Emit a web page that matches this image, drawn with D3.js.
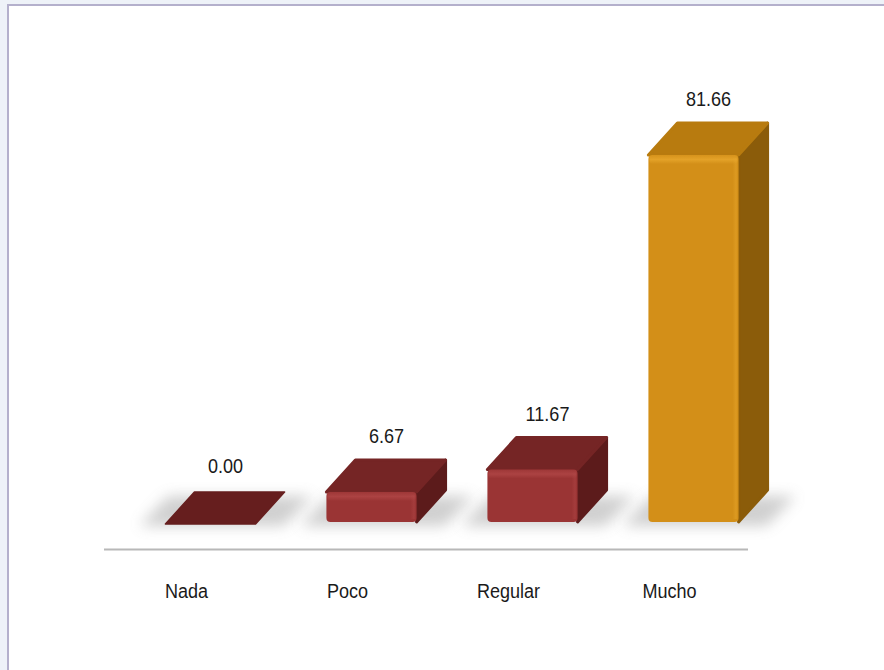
<!DOCTYPE html>
<html>
<head>
<meta charset="utf-8">
<script src="https://cdnjs.cloudflare.com/ajax/libs/d3/7.8.5/d3.min.js"></script>
<style>
  html, body { margin: 0; padding: 0; background: #eef2f8; }
  svg { display: block; }
</style>
</head>
<body>
<script>
const categories = ["Nada", "Poco", "Regular", "Mucho"];
const values = [0.00, 6.67, 11.67, 81.66];
const valueLabels = ["0.00", "6.67", "11.67", "81.66"];
const barColors = ["red", "red", "red", "gold"];

const palette = {
  red:  { key: "red",  front: "#9a3434", frontHi: "#b04646", top: "#752525", side: "#5c1b1b", flat: "#661e1e" },
  gold: { key: "gold", front: "#d38f18", frontHi: "#e8a72c", top: "#b87b0f", side: "#8b5c0a", flat: "#b87b0f" }
};

const W = 884, H = 670;
const svg = d3.select("body").append("svg").attr("width", W).attr("height", H);

// panel
svg.append("rect").attr("x", 8).attr("y", 5).attr("width", W - 7).attr("height", H - 4)
  .attr("fill", "#ffffff").attr("stroke", "#b4b0cc").attr("stroke-width", 2);

const defs = svg.append("defs");
defs.append("filter").attr("id", "blur").attr("x", "-50%").attr("y", "-50%").attr("width", "200%").attr("height", "200%")
  .append("feGaussianBlur").attr("stdDeviation", 7);

Object.values(palette).forEach(p => {
  const gr = defs.append("linearGradient").attr("id", "hi-" + p.key).attr("x1", 0).attr("y1", 0).attr("x2", 0).attr("y2", 1);
  gr.append("stop").attr("offset", "0%").attr("stop-color", p.frontHi).attr("stop-opacity", 0.2);
  gr.append("stop").attr("offset", "50%").attr("stop-color", p.frontHi).attr("stop-opacity", 1);
  gr.append("stop").attr("offset", "100%").attr("stop-color", p.frontHi).attr("stop-opacity", 0);
  const gs = defs.append("linearGradient").attr("id", "hs-" + p.key).attr("x1", 0).attr("y1", 0).attr("x2", 1).attr("y2", 0);
  gs.append("stop").attr("offset", "0%").attr("stop-color", p.frontHi).attr("stop-opacity", 0);
  gs.append("stop").attr("offset", "60%").attr("stop-color", p.frontHi).attr("stop-opacity", 0.8);
  gs.append("stop").attr("offset", "100%").attr("stop-color", p.front).attr("stop-opacity", 0);
});

const x = d3.scaleBand().domain(categories).range([130, 774]).paddingInner(0.44).paddingOuter(0.22);
const base = 522;
const y = d3.scaleLinear().domain([0, 100]).range([base, base - 449.4]);
const dx = 29, dy = -32;
const bw = x.bandwidth();

const data = categories.map((c, i) => ({ cat: c, v: values[i], lab: valueLabels[i], col: palette[barColors[i]] }));

// floor shadows
svg.append("g").selectAll("path").data(data).join("path")
  .attr("d", d => {
    const x0 = x(d.cat) - 26, x1 = x(d.cat) + bw + 28;
    const yb = base + 4, yt = base + dy + 6;
    return `M${x0},${yb} L${x1},${yb} L${x1 + dx},${yt} L${x0 + dx},${yt} Z`;
  })
  .attr("fill", "#8a8a8a").attr("opacity", 0.4).attr("filter", "url(#blur)");

// axis line
svg.append("line").attr("x1", 104).attr("x2", 748).attr("y1", 549.5).attr("y2", 549.5)
  .attr("stroke", "#b8b8b8").attr("stroke-width", 2);

const bars = svg.append("g").selectAll("g").data(data).join("g");

bars.each(function(d) {
  const g = d3.select(this);
  const x0 = x(d.cat), x1 = x0 + bw;
  const yt = y(d.v), yb = base;
  const h = yb - yt;
  if (h < 1) {
    g.append("path")
      .attr("d", `M${x0},${yb + 2} L${x1},${yb + 2} L${x1 + dx},${yb + dy + 2} L${x0 + dx},${yb + dy + 2} Z`)
      .attr("fill", d.col.flat).attr("stroke", d.col.flat).attr("stroke-width", 1.5).attr("stroke-linejoin", "round");
    return;
  }
  // side
  g.append("path")
    .attr("d", `M${x1},${yt} L${x1 + dx},${yt + dy} L${x1 + dx},${yb + dy} L${x1},${yb} Z`)
    .attr("fill", d.col.side).attr("stroke", d.col.side).attr("stroke-width", 3).attr("stroke-linejoin", "round");
  // top
  g.append("path")
    .attr("d", `M${x0},${yt} L${x1},${yt} L${x1 + dx},${yt + dy} L${x0 + dx},${yt + dy} Z`)
    .attr("fill", d.col.top).attr("stroke", d.col.top).attr("stroke-width", 3).attr("stroke-linejoin", "round");
  // front
  g.append("rect").attr("x", x0).attr("y", yt).attr("width", bw).attr("height", h).attr("rx", 4)
    .attr("fill", d.col.front);
  // bevel highlight near top of front
  g.append("rect").attr("x", x0 + 1).attr("y", yt).attr("width", bw - 2).attr("height", Math.min(9, h / 3))
    .attr("rx", 3).attr("fill", `url(#hi-${d.col.key})`).attr("opacity", 0.8);
  // bevel on right edge of front
  g.append("rect").attr("x", x1 - 6).attr("y", yt + 3).attr("width", 6).attr("height", h - 6)
    .attr("fill", `url(#hs-${d.col.key})`).attr("opacity", 0.6);
});

const font = "'Liberation Sans', Arial, sans-serif";
const sx = 0.86;

// value labels
svg.append("g").selectAll("text").data(data).join("text")
  .attr("transform", d => `translate(${x(d.cat) + bw / 2 + 15},${y(d.v) + dy - 17}) scale(${sx},1)`)
  .attr("text-anchor", "middle")
  .attr("font-family", font).attr("font-size", 21).attr("fill", "#1a1a1a")
  .text(d => d.lab);

// category labels
svg.append("g").selectAll("text").data(data).join("text")
  .attr("transform", d => `translate(${x(d.cat) + bw / 2 - 24},598) scale(${sx},1)`)
  .attr("text-anchor", "middle")
  .attr("font-family", font).attr("font-size", 21).attr("fill", "#1a1a1a")
  .text(d => d.cat);
</script>
</body>
</html>
